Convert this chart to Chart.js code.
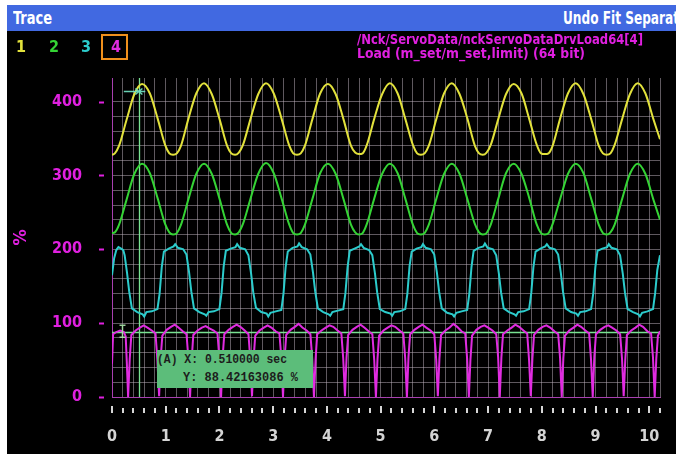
<!DOCTYPE html>
<html>
<head>
<meta charset="utf-8">
<script src="https://cdn.jsdelivr.net/npm/chart.js@4.4.1/dist/chart.umd.min.js"></script>
<style>
  html, body { margin: 0; padding: 0; background: #fff; width: 676px; height: 454px; overflow: hidden; }
  #panel { position: absolute; left: 7px; top: 5px; width: 669px; height: 449px; background: #000; }
  #bar { position: absolute; left: 7px; top: 5px; width: 669px; height: 26px; background: #4169e1; overflow: hidden; }
  canvas { position: absolute; left: 0; top: 0; }
  .t { position: absolute; white-space: nowrap; line-height: 1; transform-origin: 0 50%;
       font-family: 'Liberation Sans Narrow', 'DejaVu Sans Condensed', sans-serif; font-weight: bold; font-stretch: condensed; }
  #legendBox { position: absolute; left: 101px; top: 34px; width: 23px; height: 22px; border: 2px solid #f0901c; }
  #cursorBox { position: absolute; left: 157px; top: 350px; width: 156px; height: 38px; background: #5cbd7a; }
  .cb { position: absolute; white-space: nowrap; line-height: 1; transform-origin: 0 50%;
        font-family: 'Liberation Mono', 'DejaVu Sans Mono', monospace; font-weight: bold; font-size: 13px; color: #1c1c1c; }
</style>
</head>
<body>
<div id="panel"></div>
<canvas id="chart" width="676" height="454"></canvas>
<div id="bar">
  <span class="t" id="barLeft" style="left:6px;top:5px;font-size:17px;color:#fff"></span>
  <span class="t" id="barRight" style="left:556px;top:5px;font-size:17px;color:#fff"></span>
</div>
<div id="legend"></div>
<div id="legendBox"></div>
<span class="t" id="path1" style="left:357px;top:32px;font-size:14px;color:#e020e0"></span>
<span class="t" id="path2" style="left:357px;top:46px;font-size:14px;color:#e020e0"></span>
<div id="cursorBox">
  <span class="cb" id="cbX" style="left:0px;top:3px"></span>
  <span class="cb" id="cbY" style="left:26px;top:21px"></span>
</div>
<script>
// ---- trace channels: [time s, load %] ----
const traceNames = ['1', '2', '3', '4'];

const trace1 = [
  [0,328],[0.053,330],[0.13,340],[0.27,375],[0.415,410],[0.56,424],[0.705,411],[0.85,377],[0.99,341],
  [1.067,330],[1.137,328],[1.207,330],
  [1.283,340],[1.423,377],[1.568,411],[1.713,425],[1.858,410],[2.003,376],[2.143,340],
  [2.22,330],[2.29,328],[2.36,331],
  [2.436,341],[2.576,376],[2.721,410],[2.866,425],[3.011,411],[3.156,377],[3.296,341],
  [3.373,330],[3.443,328],[3.513,330],
  [3.589,340],[3.729,376],[3.874,411],[4.019,424],[4.164,410],[4.309,376],[4.449,340],
  [4.526,331],[4.596,329],[4.666,330],
  [4.742,341],[4.882,377],[5.027,410],[5.172,425],[5.317,411],[5.462,376],[5.602,341],
  [5.679,330],[5.749,328],[5.819,330],
  [5.895,340],[6.035,376],[6.18,411],[6.325,425],[6.47,410],[6.615,377],[6.755,340],
  [6.832,330],[6.902,328],[6.972,331],
  [7.048,341],[7.188,376],[7.333,410],[7.478,424],[7.623,411],[7.768,376],[7.908,341],
  [7.985,330],[8.055,329],[8.125,330],
  [8.201,340],[8.341,377],[8.486,411],[8.631,425],[8.776,410],[8.921,376],[9.061,340],
  [9.138,330],[9.208,328],[9.278,330],
  [9.354,341],[9.494,376],[9.639,410],[9.784,425],[9.929,411],[10.074,377],[10.2,349]
];

const trace2 = [
  [0,222],[0.053,223],[0.13,233],[0.27,267],[0.415,302],[0.56,316],[0.705,303],[0.85,269],[0.99,234],
  [1.067,223],[1.137,220],[1.207,222],
  [1.283,233],[1.423,268],[1.568,302],[1.713,316],[1.858,302],[2.003,268],[2.143,233],
  [2.22,222],[2.29,220],[2.36,223],
  [2.436,234],[2.576,268],[2.721,302],[2.866,317],[3.011,303],[3.156,269],[3.296,234],
  [3.373,222],[3.443,220],[3.513,222],
  [3.589,233],[3.729,268],[3.874,303],[4.019,316],[4.164,302],[4.309,268],[4.449,233],
  [4.526,223],[4.596,220],[4.666,222],
  [4.742,234],[4.882,269],[5.027,302],[5.172,316],[5.317,303],[5.462,268],[5.602,233],
  [5.679,222],[5.749,220],[5.819,222],
  [5.895,233],[6.035,268],[6.18,302],[6.325,316],[6.47,302],[6.615,268],[6.755,234],
  [6.832,223],[6.902,220],[6.972,222],
  [7.048,233],[7.188,268],[7.333,303],[7.478,316],[7.623,302],[7.768,269],[7.908,233],
  [7.985,222],[8.055,220],[8.125,222],
  [8.201,234],[8.341,268],[8.486,302],[8.631,316],[8.776,303],[8.921,268],[9.061,233],
  [9.138,222],[9.208,220],[9.278,223],
  [9.354,233],[9.494,268],[9.639,302],[9.784,316],[9.929,302],[10.074,268],[10.2,240]
];

const trace3 = [
  [0,165],[0.04,188],[0.08,199],[0.12,203],[0.17,201],[0.21,199],[0.235,192],[0.28,168],[0.32,143],[0.37,120],
  [0.47,115],[0.57,112],[0.6,109],[0.64,115],[0.74,116],
  [0.846,119],[0.886,140],[0.926,176],[0.966,197],[1.056,201],[1.146,204],[1.176,207],[1.226,202],[1.326,200],
  [1.386,193],[1.436,168],[1.476,143],[1.526,120],[1.626,115],[1.726,112],[1.756,110],[1.796,115],[1.896,116],
  [1.999,119],[2.039,141],[2.079,177],[2.119,198],[2.209,201],[2.299,203],[2.329,207],[2.379,202],[2.479,200],
  [2.539,192],[2.589,167],[2.629,142],[2.679,121],[2.779,115],[2.879,113],[2.909,109],[2.949,114],[3.049,116],
  [3.152,118],[3.192,140],[3.232,176],[3.272,197],[3.362,202],[3.452,204],[3.482,208],[3.532,203],[3.632,200],
  [3.692,193],[3.742,168],[3.782,143],[3.832,120],[3.932,115],[4.032,112],[4.062,110],[4.102,115],[4.202,117],
  [4.305,119],[4.345,141],[4.385,176],[4.425,198],[4.515,201],[4.605,204],[4.635,207],[4.685,202],[4.785,199],
  [4.845,192],[4.895,167],[4.935,142],[4.985,119],[5.085,115],[5.185,113],[5.215,110],[5.255,115],[5.355,116],
  [5.458,119],[5.498,140],[5.538,177],[5.578,197],[5.668,201],[5.758,203],[5.788,207],[5.838,202],[5.938,200],
  [5.998,193],[6.048,168],[6.088,143],[6.138,120],[6.238,114],[6.338,112],[6.368,109],[6.408,114],[6.508,116],
  [6.611,118],[6.651,140],[6.691,176],[6.731,198],[6.821,202],[6.911,204],[6.941,208],[6.991,202],[7.091,200],
  [7.151,192],[7.201,167],[7.241,142],[7.291,120],[7.391,115],[7.491,112],[7.521,110],[7.561,115],[7.661,116],
  [7.764,119],[7.804,141],[7.844,176],[7.884,197],[7.974,201],[8.064,204],[8.094,207],[8.144,202],[8.244,200],
  [8.304,193],[8.354,168],[8.394,143],[8.444,120],[8.544,115],[8.644,113],[8.674,110],[8.714,115],[8.814,116],
  [8.917,119],[8.957,140],[8.997,176],[9.037,198],[9.127,201],[9.217,203],[9.247,207],[9.297,202],[9.397,200],
  [9.457,192],[9.507,167],[9.547,142],[9.597,119],[9.697,115],[9.797,112],[9.827,109],[9.867,114],[9.967,116],
  [10.07,119],[10.11,141],[10.15,172],[10.2,192]
];

const trace4 = [
  [0,45],[0.02,85],[0.08,88],[0.15,90],[0.22,88],[0.255,82],[0.275,48],
  [0.3,0],[0.33,52],[0.36,84],[0.44,90],[0.52,94],[0.59,97],[0.66,94],[0.74,90],[0.81,86],[0.845,50],
  [0.877,1],[0.907,54],[0.937,83],[1.017,91],[1.097,95],[1.167,98],[1.237,94],[1.317,89],[1.387,85],[1.422,52],
  [1.453,0],[1.483,50],[1.513,84],[1.593,90],[1.673,94],[1.743,96],[1.813,93],[1.893,90],[1.963,86],[1.998,53],
  [2.03,0],[2.06,55],[2.09,85],[2.17,91],[2.25,95],[2.32,98],[2.39,95],[2.47,90],[2.54,85],[2.575,50],
  [2.606,1],[2.636,52],[2.666,83],[2.746,90],[2.826,94],[2.896,97],[2.966,94],[3.046,89],[3.116,86],[3.151,54],
  [3.183,0],[3.213,53],[3.243,84],[3.323,91],[3.403,95],[3.473,99],[3.543,94],[3.623,90],[3.693,85],[3.728,51],
  [3.759,0],[3.789,51],[3.819,85],[3.899,90],[3.979,94],[4.049,97],[4.119,95],[4.199,90],[4.269,86],[4.304,52],
  [4.336,1],[4.366,54],[4.396,84],[4.476,91],[4.556,95],[4.626,98],[4.696,94],[4.776,89],[4.846,85],[4.881,50],
  [4.912,0],[4.942,52],[4.972,83],[5.052,90],[5.132,94],[5.202,97],[5.272,95],[5.352,90],[5.422,86],[5.457,53],
  [5.489,0],[5.519,55],[5.549,85],[5.629,91],[5.709,95],[5.779,98],[5.849,94],[5.929,90],[5.999,85],[6.034,51],
  [6.065,1],[6.095,53],[6.125,84],[6.205,90],[6.285,94],[6.355,99],[6.425,95],[6.505,89],[6.575,86],[6.61,52],
  [6.642,0],[6.672,51],[6.702,83],[6.782,91],[6.862,95],[6.932,97],[7.002,94],[7.082,90],[7.152,85],[7.187,54],
  [7.218,0],[7.248,54],[7.278,85],[7.358,90],[7.438,94],[7.508,98],[7.578,95],[7.658,90],[7.728,86],[7.763,50],
  [7.795,1],[7.825,52],[7.855,84],[7.935,91],[8.015,95],[8.085,97],[8.155,94],[8.235,89],[8.305,85],[8.34,53],
  [8.371,0],[8.401,53],[8.431,83],[8.511,90],[8.591,94],[8.661,98],[8.731,95],[8.811,90],[8.881,86],[8.916,51],
  [8.948,0],[8.978,55],[9.008,85],[9.088,91],[9.168,95],[9.238,97],[9.308,94],[9.388,90],[9.458,85],[9.493,52],
  [9.524,1],[9.554,51],[9.584,84],[9.664,90],[9.744,94],[9.814,98],[9.884,95],[9.964,89],[10.034,86],[10.069,54],
  [10.101,0],[10.131,52],[10.161,83],[10.2,89]
];

// axis labels
const xTickLabels = ['0', '1', '2', '3', '4', '5', '6', '7', '8', '9', '10'];
const yTickLabels = ['0', '100', '200', '300', '400'];

// cursor A readout
const cursorX = 0.51;
const cursorY = 88.42163086;
// auxiliary markers on the plot: [time, load]
const markerI = [0.19, 81, 97];
const markerTrack = [0.22, 0.62, 0.51, 414];

// header texts
const windowTitle = 'Trace';
const windowAction = 'Undo Fit Separat';
const signalPath = '/Nck/ServoData/nckServoDataDrvLoad64[4]';
const signalDesc = 'Load (m_set/m_set,limit) (64 bit)';

// ---- styling ----
const traceColors = ['#e2e23c', '#35d435', '#2ccccc', '#e02ce0'];
const magenta = '#e020e0';
const gridColor = 'rgba(190,178,190,0.5)';
const tickFont = { family: "'DejaVu Sans Condensed', sans-serif", size: 16, weight: 'bold' };

// ---- header / legend DOM text ----
function fitWidth(el, w) {
  el.style.transform = 'none';
  const r = el.getBoundingClientRect().width;
  if (r > 0) el.style.transform = 'scaleX(' + (w / r) + ')';
}
const setText = (id, txt, w) => { const el = document.getElementById(id); el.textContent = txt; if (w) fitWidth(el, w); };
setText('barLeft', windowTitle, 39);
setText('barRight', windowAction, 116);
setText('path1', signalPath, 286);
setText('path2', signalDesc, 228);
setText('cbX', '(A) X: ' + cursorX.toFixed(6) + ' sec', 130);
setText('cbY', 'Y: ' + cursorY.toFixed(8) + ' %', 115);

const legendX = [16, 49, 81, 111];
const legend = document.getElementById('legend');
traceNames.forEach((n, i) => {
  const s = document.createElement('span');
  s.className = 't';
  s.textContent = n;
  s.style.left = legendX[i] + 'px';
  s.style.top = '39px';
  s.style.fontSize = '16px';
  s.style.color = traceColors[i];
  legend.appendChild(s);
});

// ---- overlay drawing (cursor lines, axis marks, markers) ----
const overlay = {
  id: 'overlay',
  beforeDatasetsDraw(chart) {
    const { ctx, chartArea: a, scales: { x, y } } = chart;
    const cx = Math.round(x.getPixelForValue(cursorX)) + 0.5;
    const cy = Math.round(y.getPixelForValue(cursorY)) + 0.5;
    ctx.save();
    ctx.strokeStyle = 'rgba(120,225,145,1)';
    ctx.lineWidth = 1.3;
    ctx.beginPath();
    ctx.moveTo(cx, a.top); ctx.lineTo(cx, a.bottom);
    ctx.moveTo(a.left, cy); ctx.lineTo(a.right, cy);
    ctx.stroke();
    ctx.restore();
  },
  afterDraw(chart) {
    const { ctx, chartArea: a, scales: { x, y } } = chart;
    ctx.save();
    // tick marks under the time axis
    ctx.strokeStyle = '#d6d6d6';
    ctx.lineWidth = 2;
    x.ticks.forEach(t => {
      const v = Math.round(t.value * 1000) / 1000;
      const px = Math.round(x.getPixelForValue(v));
      const major = Number.isInteger(v);
      ctx.beginPath();
      ctx.moveTo(px, a.bottom + (major ? 9 : 11));
      ctx.lineTo(px, a.bottom + 16);
      ctx.stroke();
    });
    // short marks beside the load labels
    ctx.strokeStyle = magenta;
    y.ticks.forEach(t => {
      if (t.value % 100 !== 0) return;
      const py = Math.round(y.getPixelForValue(t.value)) + 0.5;
      ctx.beginPath();
      ctx.moveTo(a.left - 13, py);
      ctx.lineTo(a.left - 8, py);
      ctx.stroke();
    });
    // "I" marker
    ctx.strokeStyle = 'rgba(170,230,170,0.9)';
    ctx.lineWidth = 1.5;
    const ix = Math.round(x.getPixelForValue(markerI[0])) + 0.5;
    const iy0 = y.getPixelForValue(markerI[1]);
    const iy1 = y.getPixelForValue(markerI[2]);
    ctx.beginPath();
    ctx.moveTo(ix, iy0); ctx.lineTo(ix, iy1);
    ctx.moveTo(ix - 3, iy0); ctx.lineTo(ix + 3, iy0);
    ctx.moveTo(ix - 3, iy1); ctx.lineTo(ix + 3, iy1);
    ctx.stroke();
    // tracking marker near the first peak
    ctx.strokeStyle = 'rgba(110,220,190,0.95)';
    const ty = Math.round(y.getPixelForValue(markerTrack[3])) + 0.5;
    const tx = x.getPixelForValue(markerTrack[2]);
    ctx.beginPath();
    ctx.moveTo(x.getPixelForValue(markerTrack[0]), ty);
    ctx.lineTo(x.getPixelForValue(markerTrack[1]), ty);
    ctx.moveTo(tx - 4, ty - 3); ctx.lineTo(tx + 3, ty + 3);
    ctx.moveTo(tx - 4, ty + 3); ctx.lineTo(tx + 3, ty - 3);
    ctx.stroke();
    ctx.restore();
  }
};

const toPoints = arr => arr.map(([t, v]) => ({ x: t, y: v }));

new Chart(document.getElementById('chart'), {
  type: 'line',
  data: {
    datasets: [trace1, trace2, trace3, trace4].map((d, i) => ({
      label: traceNames[i],
      data: toPoints(d),
      borderColor: traceColors[i],
      borderWidth: 2,
      pointRadius: 0,
      fill: false,
      tension: 0,
      cubicInterpolationMode: i < 2 ? 'monotone' : 'default'
    }))
  },
  options: {
    responsive: false,
    animation: false,
    events: [],
    layout: { padding: { top: 78, right: 16, bottom: 0, left: 0 } },
    plugins: { legend: { display: false }, tooltip: { enabled: false } },
    scales: {
      x: {
        type: 'linear', min: 0, max: 10.2,
        afterFit(s) { s.height = 57; s.paddingLeft = 0; s.paddingRight = 0; },
        grid: { color: gridColor, drawTicks: false },
        border: { color: '#a840b0', width: 1 },
        ticks: {
          stepSize: 0.2, autoSkip: false, maxRotation: 0, padding: 30,
          color: '#d4d4d4', font: tickFont,
          callback(v) {
            const r = Math.round(v * 1000) / 1000;
            return Number.isInteger(r) && xTickLabels[r] !== undefined ? xTickLabels[r] : '';
          }
        }
      },
      y: {
        type: 'linear', min: 0, max: 432,
        afterFit(s) { s.width = 112; s.paddingTop = 0; s.paddingBottom = 0; },
        grid: {
          color: c => (c.tick && Math.round(c.tick.value) % 20 === 0) ? gridColor : 'rgba(0,0,0,0)',
          drawTicks: false
        },
        border: { color: '#a840b0', width: 1 },
        ticks: {
          stepSize: 20, autoSkip: false, padding: 30, color: magenta, font: tickFont,
          callback(v) { return v % 100 === 0 ? yTickLabels[v / 100] : ''; }
        },
        title: { display: true, text: '%', color: magenta, font: { family: tickFont.family, size: 18, weight: 'bold' }, padding: { top: 11, bottom: 0 } }
      }
    }
  },
  plugins: [overlay]
});
</script>
</body>
</html>
